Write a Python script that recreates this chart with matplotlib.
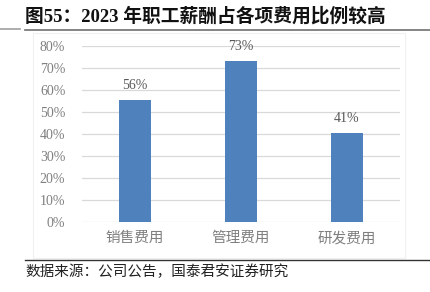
import matplotlib
matplotlib.use("Agg")
import matplotlib.pyplot as plt
from matplotlib.lines import Line2D
from matplotlib.patches import Rectangle

categories = ["销售费用", "管理费用", "研发费用"]
values = [0.556, 0.732, 0.405]
labels = ["56%", "73%", "41%"]
yticks = [0, 0.1, 0.2, 0.3, 0.4, 0.5, 0.6, 0.7, 0.8]

fonts = ["Liberation Serif", "Noto Sans CJK SC", "DejaVu Sans"]
plt.rcParams["font.family"] = fonts

W, H = 431, 292
fig = plt.figure(figsize=(W / 100, H / 100), dpi=100)

# chart frame (faint)
fig.patches.append(Rectangle((33 / W, 1 - 258 / H), 372 / W, 225 / H,
                             transform=fig.transFigure, fill=False,
                             ec="#f0f0f0", lw=0.8))

ax = fig.add_axes([82 / W, 1 - 222 / H, 318 / W, 176 / H])
x = range(len(categories))
ax.bar(x, values, width=0.31, color="#4f81bd", zorder=3)
for i, v in enumerate(values):
    ax.text(i, v + 0.035, labels[i], ha="center", va="bottom",
            fontsize=10, color="#595959")

ax.set_ylim(0, 0.8)
ax.set_xlim(-0.5, 2.5)
ax.set_yticks(yticks)
ax.set_yticklabels(["{:.0f}%".format(t * 100) for t in yticks],
                   fontsize=10, color="#7f7f7f")
ax.set_xticks(list(x))
ax.set_xticklabels(categories, fontsize=10.5, color="#7f7f7f")
ax.tick_params(length=0, axis="y", pad=12)
ax.tick_params(length=0, axis="x", pad=7)
ax.grid(axis="y", color="#d9d9d9", lw=0.9, zorder=0)
for s in ax.spines.values():
    s.set_visible(False)

# title and separators
fig.text(25 / W, 1 - 16 / H, "图55：2023 年职工薪酬占各项费用比例较高",
         fontsize=13.5, fontweight="bold", va="center", ha="left",
         color="#111111")
fig.add_artist(Line2D([0, 20 / W], [1 - 29 / H] * 2, color="#a0a0a0", lw=1.2))
fig.add_artist(Line2D([25 / W, 1], [1 - 30 / H] * 2, color="#707070", lw=1.2))
fig.add_artist(Line2D([25 / W, 1], [1 - 260 / H] * 2, color="#333333", lw=1.0))
fig.text(25 / W, 1 - 272 / H, "数据来源：公司公告，国泰君安证券研究",
         fontsize=10.5, va="center", ha="left", color="#222222")

fig.savefig("out.png", dpi=100)
